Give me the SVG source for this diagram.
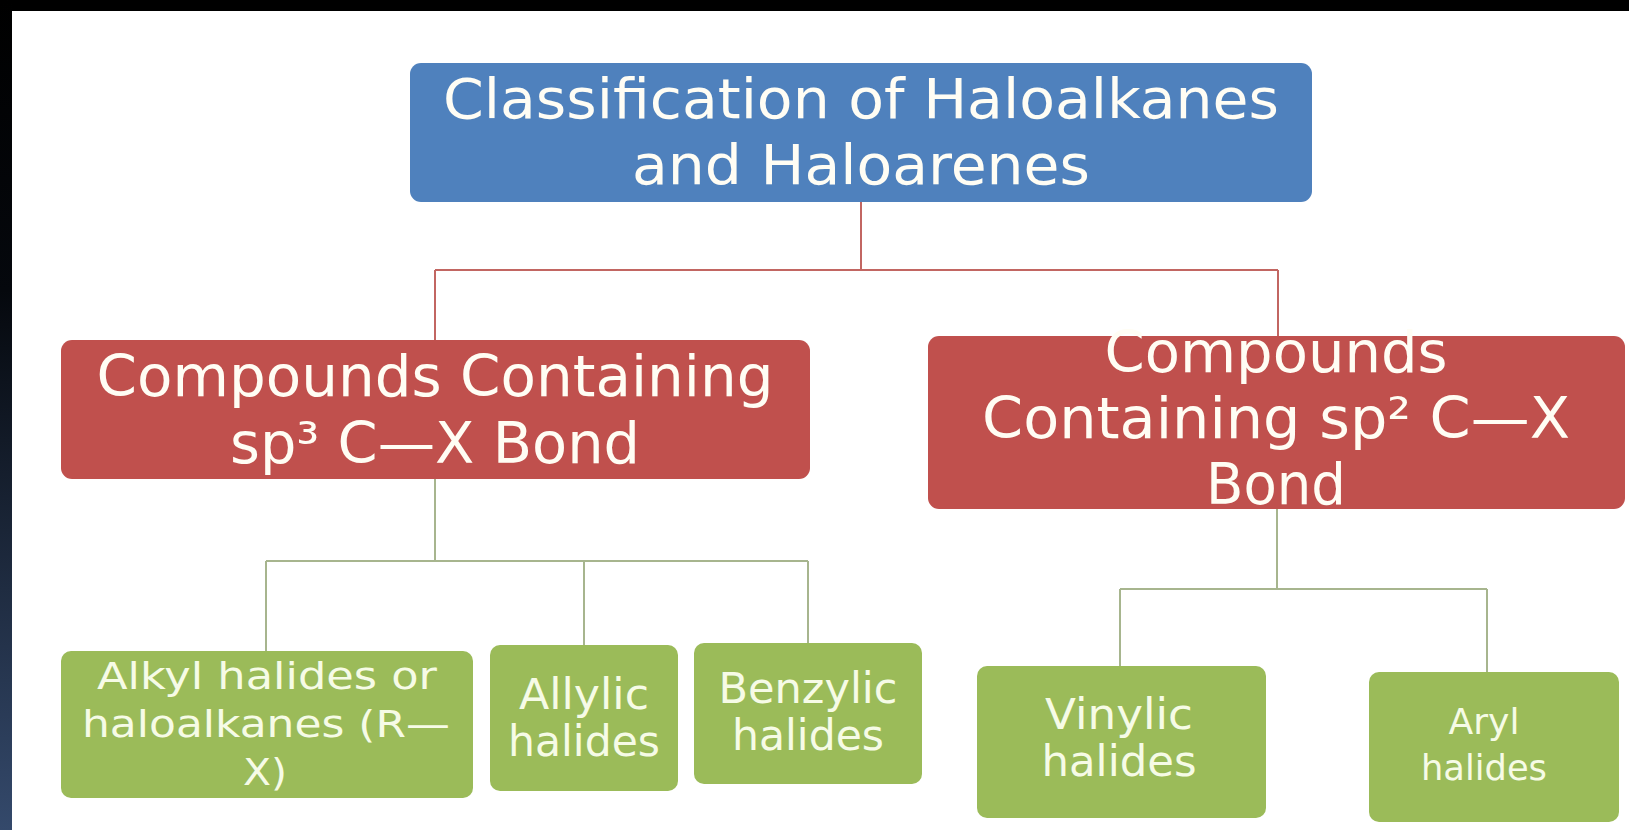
<svg xmlns="http://www.w3.org/2000/svg" width="1629" height="830" viewBox="0 0 1629 830">
<defs>
<linearGradient id="edge" x1="0" y1="0" x2="0" y2="1">
<stop offset="0" stop-color="#000000"/>
<stop offset="0.35" stop-color="#05080d"/>
<stop offset="1" stop-color="#34496b"/>
</linearGradient>
<style>
.t{font-family:"DejaVu Sans","Verdana",sans-serif;text-anchor:middle;fill:#fffdf4;}
.gt{font-family:"DejaVu Sans","Verdana",sans-serif;text-anchor:middle;fill:#f6fbe6;}
.blue{fill:#4f81bd;}
.red{fill:#c0504d;}
.green{fill:#9bbb59;}
.rc{stroke:#c26662;stroke-width:2;fill:none;}
.gc{stroke:#a7b58e;stroke-width:2;fill:none;}
</style>
</defs>
<rect x="0" y="0" width="1629" height="830" fill="#ffffff"/>
<rect x="0" y="0" width="1629" height="11" fill="#000000"/>
<rect x="0" y="0" width="12" height="830" fill="url(#edge)"/>

<g id="connectors">
<path class="rc" d="M861 202 V270 M435 270 H1278 M435 270 V340 M1278 270 V336"/>
<path class="gc" d="M435 479 V561 M266 561 H808 M266 561 V651 M584 561 V645 M808 561 V643"/>
<path class="gc" d="M1277 509 V589 M1120 589 H1487 M1120 589 V666 M1487 589 V672"/>
</g>

<g id="root">
<rect class="blue" x="410" y="63" width="902" height="139" rx="11"/>
<text class="t" x="861" y="118" font-size="56" textLength="836" lengthAdjust="spacingAndGlyphs">Classification of Haloalkanes</text>
<text class="t" x="861" y="184" font-size="56" textLength="458" lengthAdjust="spacingAndGlyphs">and Haloarenes</text>
</g>

<g id="sp3">
<rect class="red" x="61" y="340" width="749" height="139" rx="11"/>
<text class="t" x="435" y="396" font-size="57" textLength="677" lengthAdjust="spacingAndGlyphs">Compounds Containing</text>
<text class="t" x="435" y="463" font-size="57" textLength="410" lengthAdjust="spacingAndGlyphs">sp³ C—X Bond</text>
</g>

<g id="sp2">
<rect class="red" x="928" y="336" width="697" height="173" rx="11"/>
<text class="t" x="1276" y="372" font-size="57" textLength="343" lengthAdjust="spacingAndGlyphs">Compounds</text>
<text class="t" x="1276" y="438" font-size="57" textLength="588" lengthAdjust="spacingAndGlyphs">Containing sp² C—X</text>
<text class="t" x="1276" y="504" font-size="57" textLength="140" lengthAdjust="spacingAndGlyphs">Bond</text>
</g>

<g id="alkyl">
<rect class="green" x="61" y="651" width="412" height="147" rx="10"/>
<text class="gt" x="267" y="689" font-size="38" textLength="340" lengthAdjust="spacingAndGlyphs">Alkyl halides or</text>
<text class="gt" x="266" y="737" font-size="38" textLength="368" lengthAdjust="spacingAndGlyphs">haloalkanes (R—</text>
<text class="gt" x="265" y="785" font-size="38" textLength="44" lengthAdjust="spacingAndGlyphs">X)</text>
</g>

<g id="allylic">
<rect class="green" x="490" y="645" width="188" height="146" rx="10"/>
<text class="gt" x="584" y="709" font-size="42" textLength="130" lengthAdjust="spacingAndGlyphs">Allylic</text>
<text class="gt" x="584" y="756" font-size="42" textLength="152" lengthAdjust="spacingAndGlyphs">halides</text>
</g>

<g id="benzylic">
<rect class="green" x="694" y="643" width="228" height="141" rx="10"/>
<text class="gt" x="808" y="703" font-size="42" textLength="179" lengthAdjust="spacingAndGlyphs">Benzylic</text>
<text class="gt" x="808" y="750" font-size="42" textLength="152" lengthAdjust="spacingAndGlyphs">halides</text>
</g>

<g id="vinylic">
<rect class="green" x="977" y="666" width="289" height="152" rx="10"/>
<text class="gt" x="1119" y="729" font-size="42" textLength="148" lengthAdjust="spacingAndGlyphs">Vinylic</text>
<text class="gt" x="1119" y="776" font-size="42" textLength="155" lengthAdjust="spacingAndGlyphs">halides</text>
</g>

<g id="aryl">
<rect class="green" x="1369" y="672" width="250" height="150" rx="10"/>
<text class="gt" x="1484" y="734" font-size="35" textLength="71" lengthAdjust="spacingAndGlyphs">Aryl</text>
<text class="gt" x="1484" y="780" font-size="35" textLength="126" lengthAdjust="spacingAndGlyphs">halides</text>
</g>
</svg>
